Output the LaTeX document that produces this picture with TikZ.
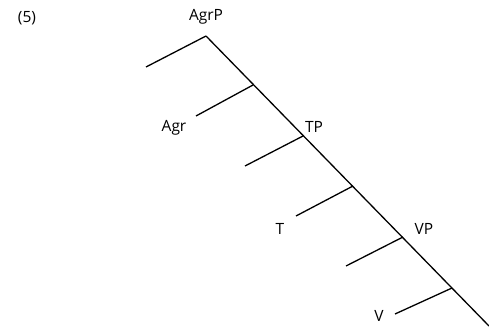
\documentclass[tikz,border=0pt]{standalone}
\usepackage{fontspec}
\setmainfont{Open Sans}
\begin{document}
\begin{tikzpicture}[x=1pt,y=-1pt,
  br/.style={line width=1.3pt},
  lab/.style={font=\fontsize{15.5}{18}\selectfont, inner sep=0pt}]
\useasboundingbox (0,0) rectangle (489,329);
\coordinate (top) at (206,36);
\coordinate (end) at (489,326);
\coordinate (b1) at (146,67);
\coordinate (s2) at (253,85);
\coordinate (e2) at (196,116);
\coordinate (s3) at (303,136);
\coordinate (e3) at (245,166);
\coordinate (s4) at (353,186);
\coordinate (e4) at (296,216);
\coordinate (s5) at (403,237);
\coordinate (e5) at (346,266);
\coordinate (s6) at (452,288);
\coordinate (e6) at (395,314);
\draw[br] (top) -- (end);
\draw[br] (top) -- (b1);
\draw[br] (s2) -- (e2);
\draw[br] (s3) -- (e3);
\draw[br] (s4) -- (e4);
\draw[br] (s5) -- (e5);
\draw[br] (s6) -- (e6);
\node[lab] (n5) at (27,18) {(5)};
\node[lab] (agrp) at (206,17) {AgrP};
\node[lab] (agr) at (174,128) {Agr};
\node[lab] (tp) at (314,127) {TP};
\node[lab] (t) at (280,229) {T};
\node[lab] (vp) at (424,229) {VP};
\node[lab] (v) at (379,316) {V};
\end{tikzpicture}
\end{document}
